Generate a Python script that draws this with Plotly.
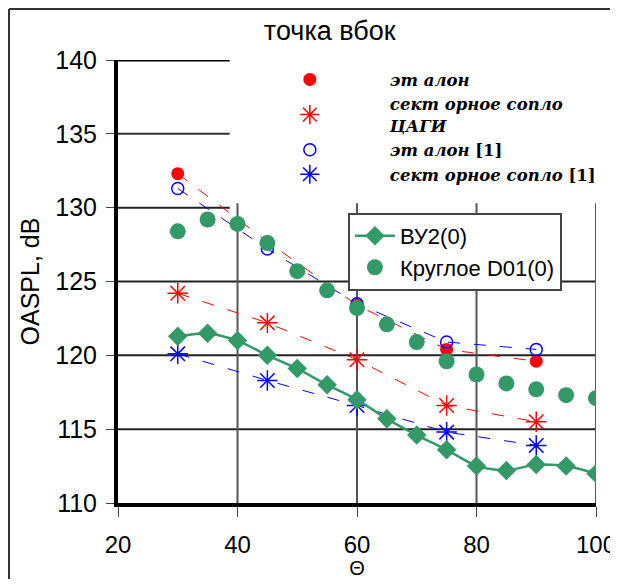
import plotly.graph_objects as go

# ---- data ----
theta_full = [30, 35, 40, 45, 50, 55, 60, 65, 70, 75, 80, 85, 90, 95, 100]
vu2 = [121.3, 121.5, 121.0, 120.0, 119.1, 118.0, 117.0, 115.7, 114.6, 113.6, 112.5, 112.2, 112.6, 112.5, 112.0]
krugloe = [128.4, 129.2, 128.9, 127.6, 125.7, 124.4, 123.2, 122.1, 120.9, 119.6, 118.7, 118.1, 117.7, 117.3, 117.1]

theta_exp = [30, 45, 60, 75, 90]
etalon = [132.3, 127.7, 123.4, 120.4, 119.6]
sektor_cagi = [124.2, 122.2, 119.7, 116.6, 115.5]
etalon_1 = [131.3, 127.2, 123.5, 120.9, 120.4]
sektor_1 = [120.1, 118.3, 116.6, 114.8, 113.9]

x_ticks = [20, 40, 60, 80, 100]
y_ticks = [110, 115, 120, 125, 130, 135, 140]

GREEN = "#339966"
RED = "#FF0000"
BLUE = "#0000FF"
SERIF = "DejaVu Serif"
SANS = "Arial, Liberation Sans, sans-serif"

fig = go.Figure()

# dashed trend lines (no legend)
for ys, col in [(etalon, RED), (sektor_cagi, RED), (etalon_1, BLUE), (sektor_1, BLUE)]:
    fig.add_trace(go.Scatter(x=theta_exp, y=ys, mode="lines",
                             line=dict(color=col, width=1, dash="12px,14px"),
                             showlegend=False, hoverinfo="skip"))

# experimental markers (legend 1)
fig.add_trace(go.Scatter(x=theta_exp, y=etalon, mode="markers", name="<i>эт алон</i>",
                         marker=dict(symbol="circle", size=13, color=RED),
                         legend="legend", legendgroup="a"))
fig.add_trace(go.Scatter(x=theta_exp, y=sektor_cagi, mode="markers",
                         name="<i>сект орное сопло<br>ЦАГИ</i>",
                         marker=dict(symbol="asterisk-open", size=17, color=RED,
                                     line=dict(color=RED, width=1.5)),
                         legend="legend", legendgroup="b"))
fig.add_trace(go.Scatter(x=theta_exp, y=etalon_1, mode="markers", name="<i>эт алон</i> [1]",
                         marker=dict(symbol="circle-open", size=12, color=BLUE,
                                     line=dict(color=BLUE, width=1.5)),
                         legend="legend", legendgroup="c"))
fig.add_trace(go.Scatter(x=theta_exp, y=sektor_1, mode="markers", name="<i>сект орное сопло</i> [1]",
                         marker=dict(symbol="asterisk-open", size=17, color=BLUE,
                                     line=dict(color=BLUE, width=1.5)),
                         legend="legend", legendgroup="d"))

# model curves (legend 2)
fig.add_trace(go.Scatter(x=theta_full, y=vu2, mode="lines+markers", name="ВУ2(0)",
                         line=dict(color=GREEN, width=2.5, shape="spline", smoothing=0.6),
                         marker=dict(symbol="diamond", size=15, color=GREEN),
                         legend="legend2"))
fig.add_trace(go.Scatter(x=theta_full, y=krugloe, mode="markers", name="Круглое D01(0)",
                         marker=dict(symbol="circle", size=16, color=GREEN),
                         legend="legend2"))

shapes = []
# upper partial horizontal grid lines
for yv, w, c in [(140, 3, "#000000"), (135, 2, "#333333"), (130, 2, "#222222")]:
    shapes.append(dict(type="line", xref="x", yref="y", x0=20, x1=38.7, y0=yv, y1=yv,
                       line=dict(color=c, width=w), layer="below"))
# full horizontal grid lines
for yv in [125, 120, 115]:
    shapes.append(dict(type="line", xref="x", yref="y", x0=20, x1=100, y0=yv, y1=yv,
                       line=dict(color="#222222", width=2), layer="below"))
# partial vertical grid lines
for xv in [40, 60, 80, 100]:
    shapes.append(dict(type="line", xref="x", yref="y", x0=xv, x1=xv, y0=110, y1=130.3,
                       line=dict(color="#555555", width=2), layer="below"))
# outer frame (top and left)
shapes.append(dict(type="line", xref="paper", yref="paper", x0=-0.228, x1=1.06, y0=1.115, y1=1.115,
                   line=dict(color="#333333", width=2)))
shapes.append(dict(type="line", xref="paper", yref="paper", x0=-0.228, x1=-0.228, y0=1.115, y1=-0.2,
                   line=dict(color="#333333", width=2)))

fig.update_layout(
    width=610, height=571,
    margin=dict(l=110, r=22, t=52, b=76, autoexpand=False),
    paper_bgcolor="white", plot_bgcolor="white",
    font=dict(family=SANS, color="black", size=25),
    title=dict(text="точка вбок", x=0.443, xref="paper", xanchor="center",
               y=0.961, yref="container", yanchor="middle",
               font=dict(size=27)),
    shapes=shapes,
    xaxis=dict(range=[20, 100], tickvals=x_ticks, showgrid=False, zeroline=False,
               automargin=False,
               showline=True, linecolor="black", linewidth=4,
               ticks="outside", ticklen=10, tickcolor="#444444", tickwidth=1,
               ticklabelstandoff=7, tickfont=dict(size=24),
               title=dict(text="Θ", font=dict(size=20), standoff=11)),
    yaxis=dict(range=[110, 140], tickvals=y_ticks, showgrid=False, zeroline=False,
               automargin=False,
               showline=True, linecolor="black", linewidth=4,
               ticks="outside", ticklen=8, tickcolor="#444444", tickwidth=1,
               ticklabelstandoff=4,
               title=dict(text="OASPL, dB", font=dict(size=25), standoff=10)),
    legend=dict(x=0.234, y=0.995, xanchor="left", yanchor="top",
                bgcolor="rgba(0,0,0,0)", borderwidth=0,
                itemwidth=150, tracegroupgap=17,
                font=dict(family=SERIF, size=16.5, weight="bold"),
                traceorder="normal"),
    legend2=dict(x=0.481, y=0.655, xanchor="left", yanchor="top",
                 bgcolor="white", bordercolor="#444444", borderwidth=2,
                 itemwidth=40,
                 font=dict(family=SANS, size=22)),
)

fig.write_html("out.html")
